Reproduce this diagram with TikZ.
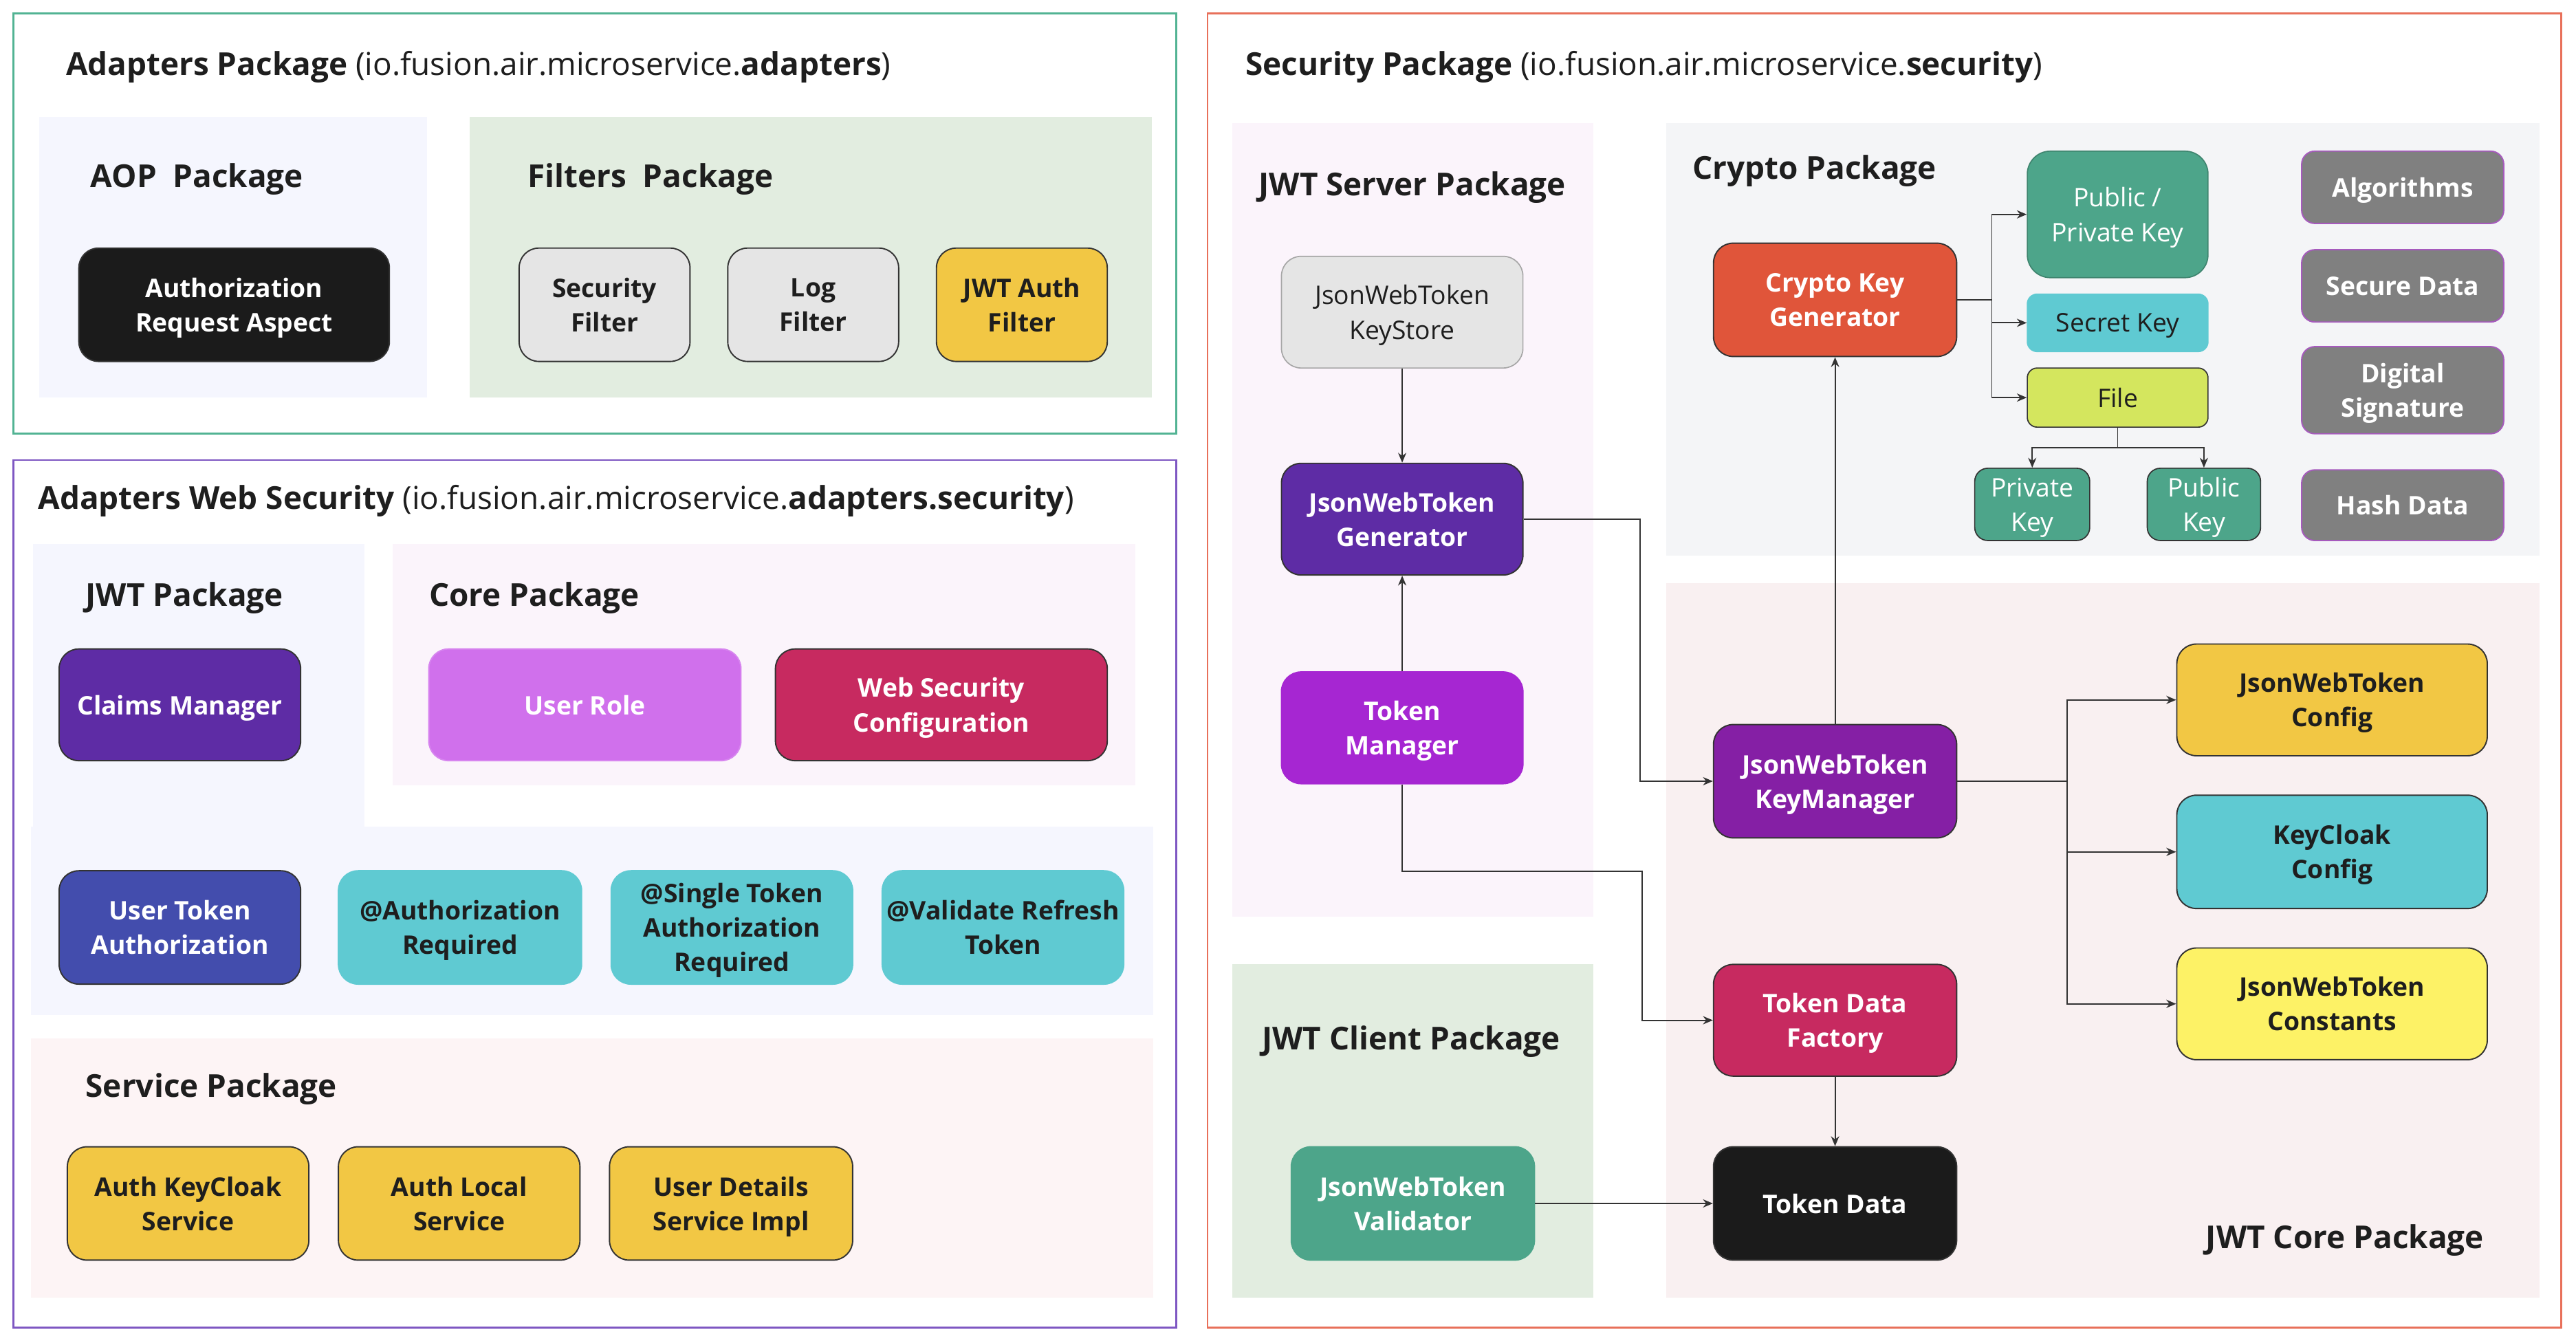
\documentclass[tikz,border=0pt]{standalone}
\usepackage{fontspec}
\IfFontExistsTF{Open Sans SemiBold}{\setmainfont{Open Sans}[BoldFont={Open Sans SemiBold}]}{\setmainfont{Open Sans}}
\usetikzlibrary{arrows.meta}
\definecolor{bdgreen}{HTML}{52B393}
\definecolor{bdpurple}{HTML}{7E57C2}
\definecolor{bdred}{HTML}{E8705A}
\definecolor{bglav}{HTML}{F5F6FE}
\definecolor{bggreen}{HTML}{E2EDE0}
\definecolor{bgpink}{HTML}{FBF4FB}
\definecolor{bgrose}{HTML}{FDF4F5}
\definecolor{bggray}{HTML}{F4F5F7}
\definecolor{bgcore}{HTML}{F9F0F1}
\definecolor{cblack}{HTML}{1B1B1B}
\definecolor{cgray}{HTML}{E5E5E5}
\definecolor{cyellow}{HTML}{F2C744}
\definecolor{cpurple}{HTML}{5E2CA5}
\definecolor{clilac}{HTML}{D070EC}
\definecolor{ccrimson}{HTML}{C72A60}
\definecolor{cindigo}{HTML}{434DAD}
\definecolor{cteal}{HTML}{5FCAD2}
\definecolor{cviolet}{HTML}{A626D2}
\definecolor{cplum}{HTML}{851FA5}
\definecolor{cgreen}{HTML}{4DA58A}
\definecolor{corange}{HTML}{E0553A}
\definecolor{clime}{HTML}{D4E65E}
\definecolor{cdgray}{HTML}{808080}
\definecolor{cpaleyellow}{HTML}{FDF266}
\definecolor{txt}{HTML}{1E1E1E}
\definecolor{ln}{HTML}{333333}
\tikzset{
  box/.style={rounded corners=12pt, draw=ln, line width=0.8pt, align=center,
    font=\fontsize{15.6}{21}\selectfont\bfseries, inner sep=2pt, text=txt, text depth=0pt},
  wbox/.style={box, text=white},
  sbox/.style={rounded corners=10pt, draw=ln, line width=0.7pt, align=center,
    font=\fontsize{15.6}{21}\selectfont, inner sep=1pt, text=txt, text depth=0pt},
  gbox/.style={box, fill=cdgray, draw=clilac!80!black, text=white, rounded corners=8pt},
  ttl/.style={anchor=west, inner sep=0pt, font=\fontsize{19.2}{23}\selectfont\bfseries, text=txt},
  mttl/.style={anchor=west, inner sep=0pt, font=\fontsize{19.2}{23}\selectfont, text=txt},
  conn/.style={draw=ln, line width=0.8pt, -{Stealth[length=6pt,width=5pt]}},
  seg/.style={draw=ln, line width=0.8pt},
}
\begin{document}
\begin{tikzpicture}[x=1pt,y=-1pt]
\fill[white] (0,0) rectangle (1568,816);
\useasboundingbox (0,0) rectangle (1568,816);
% outer frames
\draw[bdgreen, line width=1.2pt] (8,8) rectangle (716,264);
\draw[bdpurple, line width=1.2pt] (8,280) rectangle (716,808);
\draw[bdred, line width=1.2pt] (735,8) rectangle (1559,808);
% package backgrounds
\fill[bglav] (24,71) rectangle (260,242);
\fill[bggreen] (286,71) rectangle (701,242);
\fill[bglav] (20,331) rectangle (222,504);
\fill[bglav] (19,503) rectangle (702,618);
\fill[bgpink] (239,331) rectangle (691,478);
\fill[bgrose] (19,632) rectangle (702,790);
\fill[bgpink] (750,75) rectangle (970,558);
\fill[bggreen] (750,587) rectangle (970,790);
\fill[bggray] (1014,75) rectangle (1546,338);
\fill[bgcore] (1014,355) rectangle (1546,790);
% titles
\node[mttl] (t1) at (40,41) {\textbf{Adapters Package} (io.fusion.air.microservice.\textbf{adapters})};
\node[ttl] (t2) at (55,109) {AOP\ \ Package};
\node[ttl] (t3) at (321,109) {Filters\ \ Package};
\node[mttl] (t4) at (23,305) {\textbf{Adapters Web Security} (io.fusion.air.microservice.\textbf{adapters.security})};
\node[ttl] (t5) at (52,364) {JWT Package};
\node[ttl] (t6) at (261,364) {Core Package};
\node[ttl] (t7) at (52,663) {Service Package};
\node[mttl] (t8) at (758,41) {\textbf{Security Package} (io.fusion.air.microservice.\textbf{security})};
\node[ttl] (t9) at (766,114) {JWT Server Package};
\node[ttl] (t10) at (1030,104) {Crypto Package};
\node[ttl] (t11) at (768,634) {JWT Client Package};
\node[ttl, anchor=east] (t12) at (1512,755) {JWT Core Package};
% adapters package
\node[wbox, fill=cblack, minimum width=189pt, minimum height=69pt] (aspect) at (142.5,185.5) {Authorization\\Request Aspect};
\node[box, fill=cgray, minimum width=104pt, minimum height=69pt] (secfilter) at (368,185.5) {Security\\Filter};
\node[box, fill=cgray, minimum width=104pt, minimum height=69pt] (logfilter) at (495,185.5) {Log\\Filter};
\node[box, fill=cyellow, minimum width=104pt, minimum height=69pt] (jwtfilter) at (622,185.5) {JWT Auth\\Filter};
% web security
\node[wbox, fill=cpurple, minimum width=147pt, minimum height=68pt] (claims) at (109.5,429) {Claims Manager};
\node[wbox, fill=clilac, draw=clilac!85!white, minimum width=190pt, minimum height=68pt] (userrole) at (356,429) {User Role};
\node[wbox, fill=ccrimson, minimum width=202pt, minimum height=68pt] (websec) at (573,429) {Web Security\\Configuration};
\node[wbox, fill=cindigo, minimum width=147pt, minimum height=69pt] (usertoken) at (109.5,564.5) {User Token\\Authorization};
\node[box, fill=cteal, draw=cteal, minimum width=148pt, minimum height=69pt] (authreq) at (280,564.5) {@Authorization\\Required};
\node[box, fill=cteal, draw=cteal, minimum width=147pt, minimum height=69pt] (single) at (445.5,564.5) {@Single Token\\Authorization\\Required};
\node[box, fill=cteal, draw=cteal, minimum width=147pt, minimum height=69pt] (validate) at (610.5,564.5) {@Validate Refresh\\Token};
\node[box, fill=cyellow, minimum width=147pt, minimum height=69pt] (akc) at (114.5,732.5) {Auth KeyCloak\\Service};
\node[box, fill=cyellow, minimum width=147pt, minimum height=69pt] (alocal) at (279.5,732.5) {Auth Local\\Service};
\node[box, fill=cyellow, minimum width=148pt, minimum height=69pt] (udetails) at (445,732.5) {User Details\\Service Impl};
% security - jwt server
\node[sbox, fill=cgray, draw=black!35, rounded corners=12pt, minimum width=147pt, minimum height=68pt] (keystore) at (853.5,190) {JsonWebToken\\KeyStore};
\node[wbox, fill=cpurple, minimum width=147pt, minimum height=68pt] (generator) at (853.5,316) {JsonWebToken\\Generator};
\node[wbox, fill=cviolet, draw=cviolet, minimum width=147pt, minimum height=68pt] (tokenmgr) at (853.5,443) {Token\\Manager};
\node[wbox, fill=cgreen, draw=cgreen, minimum width=148pt, minimum height=69pt] (validator) at (860,732.5) {JsonWebToken\\Validator};
% crypto
\node[wbox, fill=corange, minimum width=148pt, minimum height=69pt] (cryptogen) at (1117,182.5) {Crypto Key\\Generator};
\node[sbox, fill=cgreen, draw=cgreen!80!black, text=white, rounded corners=14pt, minimum width=110pt, minimum height=77pt] (pubpriv) at (1289,130.5) {Public /\\Private Key};
\node[sbox, fill=cteal, draw=cteal, rounded corners=6pt, minimum width=110pt, minimum height=35pt] (secret) at (1289,196.5) {Secret Key};
\node[sbox, fill=clime, draw=ln, rounded corners=6pt, minimum width=110pt, minimum height=36pt] (file) at (1289,242) {File};
\node[sbox, fill=cgreen, text=white, rounded corners=8pt, minimum width=70pt, minimum height=44pt] (privkey) at (1237,307) {Private\\Key};
\node[sbox, fill=cgreen, text=white, rounded corners=8pt, minimum width=69pt, minimum height=44pt] (pubkey) at (1341.5,307) {Public\\Key};
\node[gbox, minimum width=123pt, minimum height=44pt] (algorithms) at (1462.5,114) {Algorithms};
\node[gbox, minimum width=123pt, minimum height=44pt] (securedata) at (1462.5,174) {Secure Data};
\node[gbox, minimum width=123pt, minimum height=53pt] (digsig) at (1462.5,237.5) {Digital\\Signature};
\node[gbox, minimum width=123pt, minimum height=43pt] (hashdata) at (1462.5,307.5) {Hash Data};
% jwt core
\node[wbox, fill=cplum, minimum width=148pt, minimum height=69pt] (keymgr) at (1117,475.5) {JsonWebToken\\KeyManager};
\node[wbox, fill=ccrimson, minimum width=148pt, minimum height=68pt] (tdfactory) at (1117,621) {Token Data\\Factory};
\node[wbox, fill=cblack, minimum width=148pt, minimum height=69pt] (tokendata) at (1117,732.5) {Token Data};
\node[box, fill=cyellow, minimum width=189pt, minimum height=68pt] (jwtconfig) at (1419.5,426) {JsonWebToken\\Config};
\node[box, fill=cteal, minimum width=189pt, minimum height=69pt] (kcconfig) at (1419.5,518.5) {KeyCloak\\Config};
\node[box, fill=cpaleyellow, minimum width=189pt, minimum height=68pt] (constants) at (1419.5,611) {JsonWebToken\\Constants};
% connectors
\draw[conn] (keystore) -- (generator);
\draw[conn] (tokenmgr) -- (generator);
\draw[conn] (generator.east) -- ++(71,0) |- (keymgr.west);
\draw[conn] (tokenmgr.south) -- ++(0,53) -- ++(146,0) |- (tdfactory.west);
\draw[conn] (keymgr.north) -- (cryptogen.south);
\draw[seg] (cryptogen.east) -- ++(21,0) coordinate (cb);
\draw[conn] (cb) |- (pubpriv.west);
\draw[conn] (cb) |- (secret.west);
\draw[conn] (cb) |- (file.west);
\draw[seg] (file.south) -- ++(0,12) coordinate (fb);
\draw[conn] (fb) -| (privkey.north);
\draw[conn] (fb) -| (pubkey.north);
\draw[seg] (keymgr.east) -- ++(67,0) coordinate (kb);
\draw[conn] (kb) |- (jwtconfig.west);
\draw[conn] (kb) |- (kcconfig.west);
\draw[conn] (kb) |- (constants.west);
\draw[conn] (tdfactory) -- (tokendata);
\draw[conn] (validator.east) -- (tokendata.west);
\end{tikzpicture}
\end{document}
